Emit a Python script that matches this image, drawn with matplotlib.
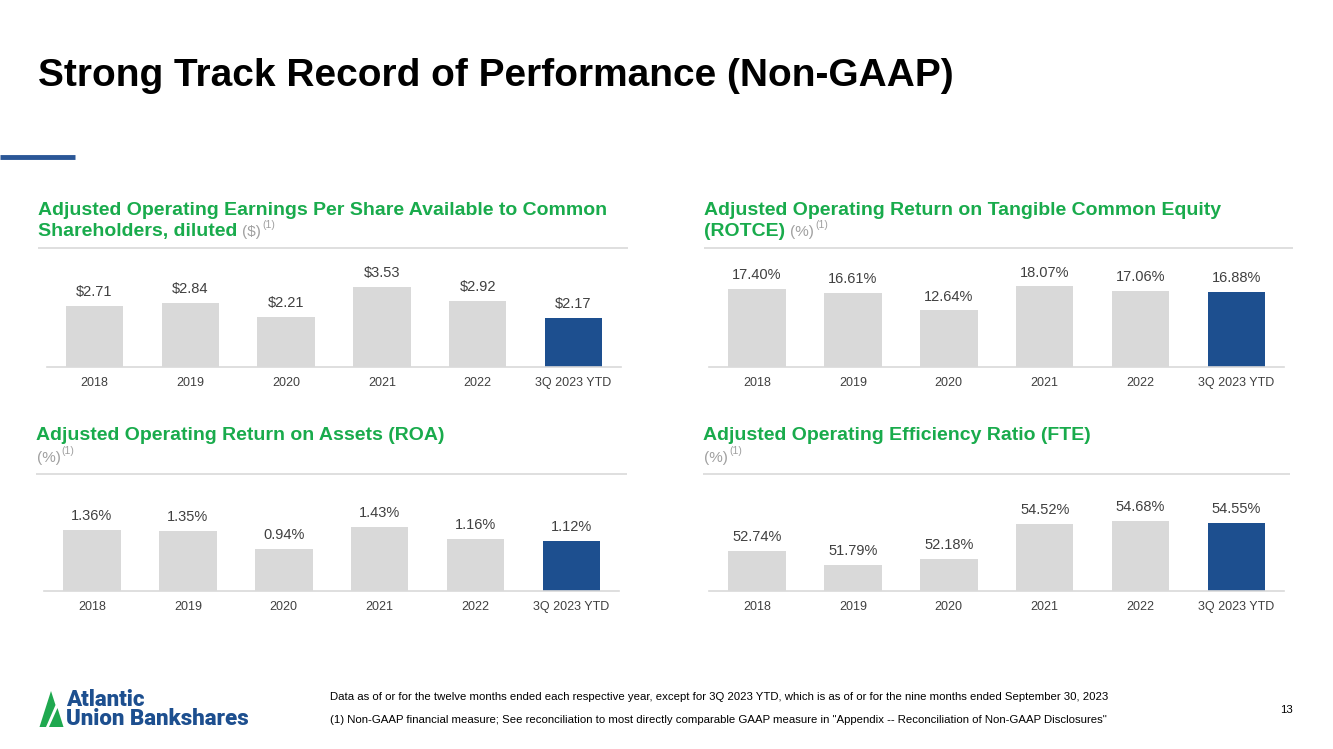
import matplotlib
matplotlib.use('Agg')
import matplotlib.pyplot as plt
from matplotlib.patches import Polygon
from matplotlib.lines import Line2D

# slide size in pixels
W, H = 1333, 749

# data
years = ['2018', '2019', '2020', '2021', '2022', '3Q 2023 YTD']
eps = [2.71, 2.84, 2.21, 3.53, 2.92, 2.17]
rotce = [17.40, 16.61, 12.64, 18.07, 17.06, 16.88]
roa = [1.36, 1.35, 0.94, 1.43, 1.16, 1.12]
efficiency = [52.74, 51.79, 52.18, 54.52, 54.68, 54.55]

eps_labels = ['$%.2f' % v for v in eps]
rotce_labels = ['%.2f%%' % v for v in rotce]
roa_labels = ['%.2f%%' % v for v in roa]
efficiency_labels = ['%.2f%%' % v for v in efficiency]

GREEN = '#19ab4c'
BLUE = '#1d4f8f'
GREY_BAR = '#d9d9d9'
GREY_TXT = '#404040'
GREY_UNIT = '#a0a0a0'

plt.rcParams['font.family'] = ['Liberation Sans', 'DejaVu Sans']


def fx(x):
    return x / W


def fy(y):
    return 1 - y / H


fig = plt.figure(figsize=(W / 100, H / 100), dpi=100)
fig.patch.set_facecolor('white')
renderer = fig.canvas.get_renderer()


def hline(x0, x1, y, color, lw):
    fig.add_artist(Line2D([fx(x0), fx(x1)], [fy(y), fy(y)], color=color, lw=lw,
                          solid_capstyle='butt'))


def header(x, baselines, lines, unit, unit_newline=False):
    """Green bold header, grey unit and superscript footnote mark."""
    t = None
    for yb, s in zip(baselines, lines):
        t = fig.text(fx(x), fy(yb), s, color=GREEN, fontsize=14, fontweight='bold',
                     va='baseline', ha='left')
    if unit_newline:
        ux, uy = x + 1, baselines[-1] + 22
    else:
        bb = t.get_window_extent(renderer)
        ux, uy = bb.x1 + 5, baselines[-1]
    u = fig.text(fx(ux), fy(uy), unit, color=GREY_UNIT, fontsize=11, va='baseline', ha='left')
    bb = u.get_window_extent(renderer)
    fig.text(fx(bb.x1 + 1), fy(uy - 8), '(1)', color=GREY_UNIT, fontsize=7.5,
             va='baseline', ha='left')


def panel(c0, c5, baseline, ylim, scale, values, labels):
    s = (c5 - c0) / 5
    left = c0 - s / 2
    right = c5 + s / 2
    height = (ylim[1] - ylim[0]) * scale
    ax = fig.add_axes([fx(left), fy(baseline), (right - left) / W, height / H])
    colors = [GREY_BAR] * (len(values) - 1) + [BLUE]
    bars = ax.bar(range(len(values)), values, width=0.6, color=colors, zorder=2)
    ax.set_xlim(-0.5, len(values) - 0.5)
    ax.set_ylim(*ylim)
    for b, lab in zip(bars, labels):
        ax.annotate(lab, (b.get_x() + b.get_width() / 2, b.get_height()),
                    xytext=(0, 7), textcoords='offset points', ha='center',
                    va='baseline', fontsize=10.5, color=GREY_TXT)
    ax.set_xticks(range(len(values)))
    ax.set_xticklabels(years, fontsize=9, color=GREY_TXT)
    ax.tick_params(axis='x', length=0, pad=7)
    ax.set_yticks([])
    for sp in ['top', 'right', 'left']:
        ax.spines[sp].set_visible(False)
    ax.spines['bottom'].set_color(GREY_BAR)
    ax.spines['bottom'].set_linewidth(1.2)
    ax.patch.set_alpha(0)
    return ax


# title and accent line
fig.text(fx(38), fy(86), 'Strong Track Record of Performance (Non-GAAP)', fontsize=28,
         fontweight='bold', color='black', va='baseline', ha='left')
hline(0, 75, 157, '#2b5797', 3.5)

# headers
header(38, [215, 236], ['Adjusted Operating Earnings Per Share Available to Common',
                        'Shareholders, diluted'], '($)')
header(704, [215, 236], ['Adjusted Operating Return on Tangible Common Equity',
                         '(ROTCE)'], '(%)')
header(36, [440], ['Adjusted Operating Return on Assets (ROA)'], '(%)', unit_newline=True)
header(703, [440], ['Adjusted Operating Efficiency Ratio (FTE)'], '(%)', unit_newline=True)

hline(38, 628, 248, '#d9d9d9', 1.2)
hline(704, 1293, 248, '#d9d9d9', 1.2)
hline(36, 627, 474, '#d9d9d9', 1.2)
hline(703, 1290, 474, '#d9d9d9', 1.2)

# charts
panel(94.5, 573.5, 367, (0, 4), 22.6, eps, eps_labels)
panel(757, 1236.5, 367, (0, 20), 4.47, rotce, rotce_labels)
panel(92, 571.5, 591, (0, 2), 44.7, roa, roa_labels)
panel(757, 1236.5, 591, (50.08, 56), 15.2, efficiency, efficiency_labels)

# footnotes
fig.text(fx(330), fy(700), 'Data as of or for the twelve months ended each respective year, except for '
         '3Q 2023 YTD, which is as of or for the nine months ended September 30, 2023',
         fontsize=8.2, color='black', va='baseline', ha='left')
fig.text(fx(330), fy(723), '(1) Non-GAAP financial measure; See reconciliation to most directly '
         'comparable GAAP measure in "Appendix -- Reconciliation of Non-GAAP Disclosures"',
         fontsize=8.2, color='black', va='baseline', ha='left')
fig.text(fx(1293), fy(713), '13', fontsize=8.2, color='black', va='baseline', ha='right')

# logo
left_mark = [(39.5, 727), (51, 691), (55.5, 705), (46, 727)]
right_mark = [(49, 727), (57.5, 708), (63.5, 727)]
for pts in [left_mark, right_mark]:
    fig.add_artist(Polygon([(fx(a), fy(b)) for a, b in pts], closed=True,
                           facecolor='#1fa84f', edgecolor='none'))
fig.text(fx(66), fy(730), 'Atlantic\nUnion Bankshares', fontsize=16, fontweight='black',
         family='Roboto', color=BLUE, va='bottom', ha='left', linespacing=0.82)

fig.savefig('out.png', dpi=100, facecolor='white')
